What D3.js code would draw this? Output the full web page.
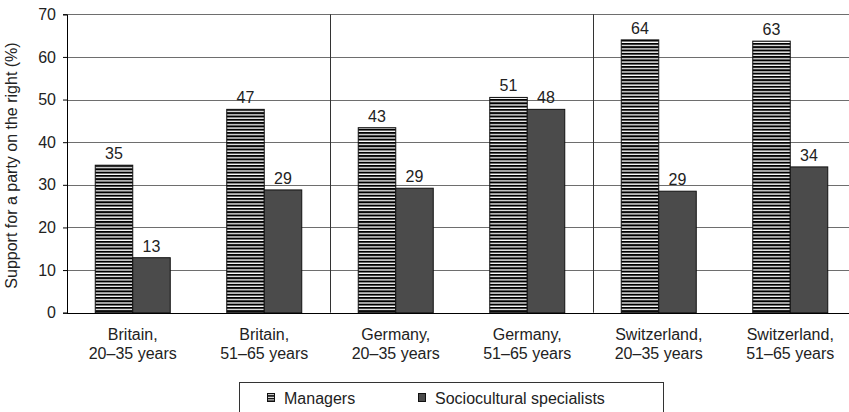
<!DOCTYPE html>
<meta charset="utf-8">
<html>
<head>
<title>support for a party on the right</title>
<style>
  body { margin: 0; background: #fff; }
  svg { display: block; font-family: "Liberation Sans", Arial, sans-serif; }
</style>
<script src="https://cdn.jsdelivr.net/npm/d3@7"></script>
</head>
<body>
<div id="chart"></div>
<script>

// categories (two lines each)
var categories = ["Britain, 20–35", "Britain, 51–65", "Germany, 20–35",
                  "Germany, 51–65", "Switzerland, 20–35", "Switzerland, 51–65"];
var catLine1 = ["Britain,", "Britain,", "Germany,", "Germany,", "Switzerland,", "Switzerland,"];
var catLine2 = ["20–35 years", "51–65 years", "20–35 years", "51–65 years", "20–35 years", "51–65 years"];

var series = ["Managers", "Sociocultural specialists"];

var managers     = [34.6, 47.7, 43.4, 50.5, 64.0, 63.7];
var specialists  = [12.9, 28.8, 29.2, 47.7, 28.5, 34.2];
var managersLbl    = ["35", "47", "43", "51", "64", "63"];
var specialistsLbl = ["13", "29", "29", "48", "29", "34"];

var yTicks = [0, 10, 20, 30, 40, 50, 60, 70];

// set the dimensions
var W = 849, H = 412;
var plotL = 67, plotR = 856, plotT = 14.3, plotB = 312.7;

var svg = d3.select("#chart").append("svg")
    .attr("width", W)
    .attr("height", H);

// hatch pattern for managers
var defs = svg.append("defs");
var pat = defs.append("pattern")
    .attr("id", "hatch")
    .attr("patternUnits", "userSpaceOnUse")
    .attr("width", 8)
    .attr("height", 3.3);
pat.append("rect").attr("width", 8).attr("height", 3.3).attr("fill", "#fff");
pat.append("rect").attr("width", 8).attr("height", 2).attr("fill", "#000");

var legPat = defs.append("pattern")
    .attr("id", "hatchLeg")
    .attr("patternUnits", "userSpaceOnUse")
    .attr("width", 8)
    .attr("height", 2.6);
legPat.append("rect").attr("width", 8).attr("height", 2.6).attr("fill", "#fff");
legPat.append("rect").attr("width", 8).attr("height", 1.5).attr("fill", "#000");

// scales
var x0 = d3.scaleBand().domain(categories).range([plotL, plotR]);
var bw = 37.5;
var x1 = d3.scaleBand().domain(series)
    .range([x0.bandwidth() / 2 - bw, x0.bandwidth() / 2 + bw]);
var y = d3.scaleLinear().domain([0, 70]).range([plotB, plotT]);

// gridlines
svg.append("g").selectAll("line")
    .data(yTicks.filter(function(d) { return d > 0; }))
  .enter().append("line")
    .attr("x1", plotL).attr("x2", plotR)
    .attr("y1", function(d) { return Math.round(y(d)) + 0.5; })
    .attr("y2", function(d) { return Math.round(y(d)) + 0.5; })
    .attr("stroke", "#6e6e6e")
    .attr("stroke-width", 1);

// country separators
svg.append("g").selectAll("line")
    .data([categories[2], categories[4]])
  .enter().append("line")
    .attr("x1", function(d) { return Math.round(x0(d)) + 0.5; })
    .attr("x2", function(d) { return Math.round(x0(d)) + 0.5; })
    .attr("y1", y(70)).attr("y2", y(0))
    .attr("stroke", "#333")
    .attr("stroke-width", 1);

// bars
var rows = categories.map(function(c, i) {
  return [
    { cat: c, s: series[0], v: managers[i], lbl: managersLbl[i] },
    { cat: c, s: series[1], v: specialists[i], lbl: specialistsLbl[i] }
  ];
});

var groups = svg.append("g").selectAll("g")
    .data(rows)
  .enter().append("g")
    .attr("transform", function(d) { return "translate(" + x0(d[0].cat) + ",0)"; });

groups.selectAll("rect")
    .data(function(d) { return d; })
  .enter().append("rect")
    .attr("x", function(d) { return x1(d.s); })
    .attr("width", x1.bandwidth())
    .attr("y", function(d) { return y(d.v); })
    .attr("height", function(d) { return y(0) - y(d.v); })
    .attr("fill", function(d) { return d.s === series[0] ? "url(#hatch)" : "#4b4b4b"; })
    .attr("stroke", "#111")
    .attr("stroke-width", 1);

groups.selectAll("text")
    .data(function(d) { return d; })
  .enter().append("text")
    .attr("x", function(d) { return x1(d.s) + x1.bandwidth() / 2; })
    .attr("y", function(d) { return y(d.v) - 6; })
    .attr("text-anchor", "middle")
    .attr("font-size", 16)
    .attr("fill", "#222")
    .text(function(d) { return d.lbl; });

// Y axis
var yAxis = svg.append("g")
    .attr("transform", "translate(" + plotL + ",0)")
    .call(d3.axisLeft(y).tickValues(yTicks).tickSize(4).tickPadding(7));
yAxis.select(".domain").attr("stroke", "#000");
yAxis.selectAll(".tick line").attr("stroke", "#000");
yAxis.selectAll("text")
    .attr("font-size", 16)
    .attr("fill", "#222")
    .attr("font-family", "Liberation Sans, Arial, sans-serif");

// X axis line
svg.append("line")
    .attr("x1", plotL).attr("x2", plotR)
    .attr("y1", Math.round(y(0)) + 0.5).attr("y2", Math.round(y(0)) + 0.5)
    .attr("stroke", "#000");

// category labels
var xl = svg.append("g").selectAll("text")
    .data(categories)
  .enter().append("text")
    .attr("text-anchor", "middle")
    .attr("font-size", 16)
    .attr("fill", "#222");
xl.append("tspan")
    .attr("x", function(d) { return x0(d) + x0.bandwidth() / 2; })
    .attr("y", 340)
    .text(function(d, i) { return catLine1[i]; });
xl.append("tspan")
    .attr("x", function(d) { return x0(d) + x0.bandwidth() / 2; })
    .attr("y", 358.5)
    .text(function(d, i) { return catLine2[i]; });

// Y axis title
svg.append("text")
    .attr("transform", "translate(17," + ((plotT + plotB) / 2 + 2) + ") rotate(-90)")
    .attr("text-anchor", "middle")
    .attr("font-size", 16)
    .attr("fill", "#222")
    .text("Support for a party on the right (%)");

// legend
var leg = svg.append("g");
leg.append("rect")
    .attr("x", 239.5).attr("y", 382.5)
    .attr("width", 424).attr("height", 40)
    .attr("fill", "#fff")
    .attr("stroke", "#333");

var legX = [267, 418];
var li = leg.selectAll("g.item")
    .data(series)
  .enter().append("g")
    .attr("class", "item")
    .attr("transform", function(d, i) { return "translate(" + legX[i] + ",0)"; });
li.append("rect")
    .attr("x", 0.5).attr("y", 393.5)
    .attr("width", 7).attr("height", 8)
    .attr("fill", function(d, i) { return i === 0 ? "url(#hatchLeg)" : "#4b4b4b"; })
    .attr("stroke", "#111");
li.append("text")
    .attr("x", 17).attr("y", 403.5)
    .attr("font-size", 16)
    .attr("fill", "#222")
    .text(function(d) { return d; });

</script>
</body>
</html>
